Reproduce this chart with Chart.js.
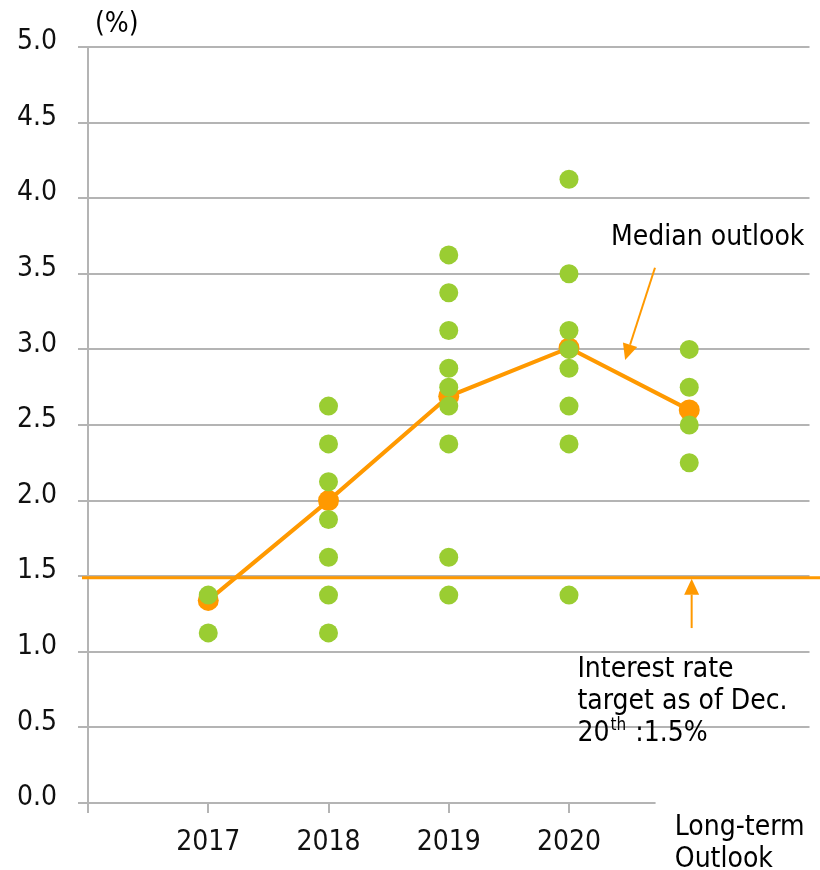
<!DOCTYPE html>
<html>
<head>
<meta charset="utf-8">
<script src="https://cdn.jsdelivr.net/npm/chart.js@4.4.1/dist/chart.umd.min.js"></script>
<style>
  html, body { margin: 0; padding: 0; background: #fff; }
  #wrap { position: relative; width: 820px; height: 870px; }
</style>
</head>
<body>
<div id="wrap"><canvas id="dotChart"></canvas></div>
<script>
// Participants' year-end policy rate projections (%), one dot per participant
const periods = ['2017', '2018', '2019', '2020'];
const longRunLabel = ['Long-term', 'Outlook'];
const dots2017 = [1.375, 1.125];
const dots2018 = [2.625, 2.375, 2.125, 1.875, 1.625, 1.375, 1.125];
const dots2019 = [3.625, 3.375, 3.125, 2.875, 2.75, 2.625, 2.375, 1.625, 1.375];
const dots2020 = [4.125, 3.5, 3.125, 3.0, 2.875, 2.625, 2.375, 1.375];
const dotsLongRun = [3.0, 2.75, 2.5, 2.25];
const medians = [1.34, 2.0, 2.69, 3.01, 2.6];
const policyRate = 1.5;
const yTickValues = [0, 0.5, 1, 1.5, 2, 2.5, 3, 3.5, 4, 4.5, 5];

const GRID = '#b4b4b4';
const ORANGE = '#ff9900';
const GREEN = '#9acd32';
const FONT = '"DejaVu Sans Condensed", "DejaVu Sans", Verdana, sans-serif';

const allDots = [dots2017, dots2018, dots2019, dots2020, dotsLongRun];
const dotPoints = [];
allDots.forEach((list, i) => list.forEach(v => dotPoints.push({ x: i + 1, y: v })));
const medianPoints = medians.map((v, i) => ({ x: i + 1, y: v }));

function drawArrow(ctx, x1, y1, x2, y2) {
    const ang = Math.atan2(y2 - y1, x2 - x1);
    const len = 16, half = 7.5;
    const bx = x2 - len * Math.cos(ang), by = y2 - len * Math.sin(ang);
    ctx.beginPath();
    ctx.moveTo(x1, y1);
    ctx.lineTo(bx, by);
    ctx.stroke();
    ctx.beginPath();
    ctx.moveTo(x2, y2);
    ctx.lineTo(bx + half * Math.sin(ang), by - half * Math.cos(ang));
    ctx.lineTo(bx - half * Math.sin(ang), by + half * Math.cos(ang));
    ctx.closePath();
    ctx.fill();
}

// Axis stub, policy-rate line, arrows and notes
const annotations = {
    id: 'annotations',
    afterDraw(chart) {
        const { ctx, chartArea, scales: { x, y } } = chart;
        ctx.save();

        // x axis stops short of the long-term column
        ctx.strokeStyle = GRID;
        ctx.lineWidth = 2;
        ctx.beginPath();
        ctx.moveTo(x.getPixelForValue(0), y.getPixelForValue(0));
        ctx.lineTo(x.getPixelForValue(4.72), y.getPixelForValue(0));
        ctx.stroke();

        // current target rate
        const py = y.getPixelForValue(policyRate) + 1.5;
        ctx.strokeStyle = ORANGE;
        ctx.fillStyle = ORANGE;
        ctx.lineWidth = 3;
        ctx.beginPath();
        ctx.moveTo(chartArea.left - 6, py);
        ctx.lineTo(chart.width, py);
        ctx.stroke();

        ctx.lineWidth = 2;
        drawArrow(ctx, x.getPixelForValue(4.715), y.getPixelForValue(3.54),
                  x.getPixelForValue(4.467), y.getPixelForValue(2.93));
        drawArrow(ctx, x.getPixelForValue(5.02), y.getPixelForValue(1.157),
                  x.getPixelForValue(5.02), py + 1);

        ctx.fillStyle = '#000';
        ctx.textBaseline = 'middle';
        ctx.textAlign = 'left';
        ctx.font = '28px ' + FONT;
        ctx.fillText('(%)', chartArea.left + 7, chartArea.top - 22);
        ctx.fillText('Median outlook', x.getPixelForValue(4.35), y.getPixelForValue(3.74));

        // long-term column label, left aligned under the axis gap
        const lx = x.getPixelForValue(4.88);
        ctx.fillText(longRunLabel[0], lx, chartArea.bottom + 25);
        ctx.fillText(longRunLabel[1], lx, chartArea.bottom + 57);

        const tx = x.getPixelForValue(4.07);
        ctx.fillText('Interest rate', tx, y.getPixelForValue(0.88));
        ctx.fillText('target as of Dec.', tx, y.getPixelForValue(0.668));
        const ly = y.getPixelForValue(0.456);
        ctx.fillText('20', tx, ly);
        const w20 = ctx.measureText('20').width;
        ctx.font = '17px ' + FONT;
        ctx.fillText('th', tx + w20 + 1, ly - 8);
        const wth = ctx.measureText('th').width;
        ctx.font = '28px ' + FONT;
        ctx.fillText(' :1.5%', tx + w20 + wth + 2, ly);

        ctx.restore();
    }
};

new Chart(document.getElementById('dotChart'), {
    type: 'scatter',
    data: {
        datasets: [{
            label: 'Participants',
            data: dotPoints,
            backgroundColor: GREEN,
            borderWidth: 0,
            pointRadius: 9.5,
            pointHoverRadius: 9.5
        }, {
            type: 'line',
            label: 'Median',
            data: medianPoints,
            borderColor: ORANGE,
            borderWidth: 4,
            backgroundColor: ORANGE,
            pointBackgroundColor: ORANGE,
            pointBorderWidth: 0,
            pointRadius: 10.5,
            tension: 0,
            fill: false
        }]
    },
    options: {
        responsive: true,
        maintainAspectRatio: false,
        animation: false,
        layout: { padding: { top: 47, right: 8, left: 0, bottom: 0 } },
        plugins: {
            legend: { display: false },
            tooltip: { enabled: false }
        },
        scales: {
            x: {
                type: 'linear',
                min: 0,
                max: 6,
                afterFit: (scale) => { scale.height = 67; },
                afterBuildTicks: (scale) => {
                    scale.ticks = [0, 1, 2, 3, 4].map(v => ({ value: v }));
                },
                border: { display: false },
                grid: {
                    drawOnChartArea: false,
                    drawTicks: true,
                    tickLength: 10,
                    lineWidth: 2,
                    tickColor: GRID
                },
                ticks: {
                    autoSkip: false,
                    maxRotation: 0,
                    padding: 13,
                    color: '#111',
                    font: { family: FONT, size: 28, lineHeight: 1.2 },
                    callback: (v) => (v >= 1 && v <= 4) ? periods[v - 1] : ''
                }
            },
            y: {
                min: 0,
                max: 5,
                afterFit: (scale) => { scale.width = 88; },
                afterBuildTicks: (scale) => {
                    scale.ticks = yTickValues.map(v => ({ value: v }));
                },
                border: { display: true, color: GRID, width: 2 },
                grid: {
                    lineWidth: 2,
                    tickLength: 10,
                    color: (c) => (c.tick && c.tick.value === 0) ? 'rgba(0,0,0,0)' : GRID,
                    tickColor: GRID
                },
                ticks: {
                    padding: 21,
                    labelOffset: -5,
                    color: '#111',
                    font: { family: FONT, size: 28 },
                    callback: (v) => v.toFixed(1)
                }
            }
        }
    },
    plugins: [annotations]
});
</script>
</body>
</html>
